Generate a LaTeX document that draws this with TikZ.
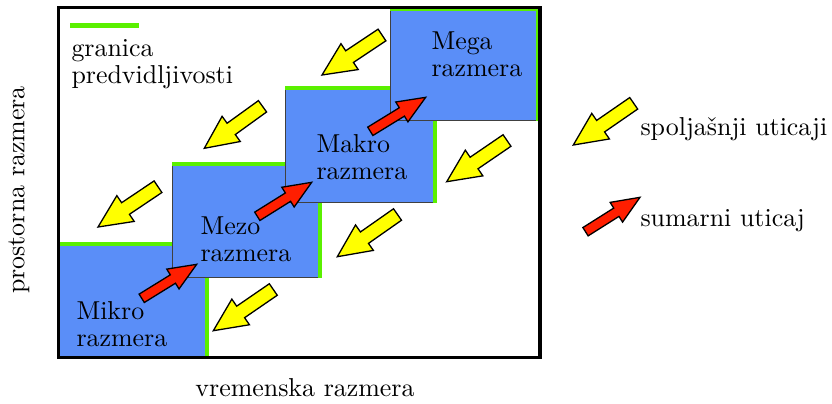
\documentclass[tikz,border=0pt]{standalone}
\usetikzlibrary{calc}

\definecolor{scaleblue}{RGB}{90,142,248}
\definecolor{limitgreen}{RGB}{90,240,0}
\definecolor{pushyellow}{RGB}{255,255,0}
\definecolor{sumred}{RGB}{255,30,0}

\tikzset{
  scalebox/.style={draw=black!75, line width=0.4pt, fill=scaleblue, anchor=north west, inner sep=0pt},
  bound/.style={draw=limitgreen, line width=1.6pt},
  outside/.style={draw=black, line width=0.5pt, fill=pushyellow, line join=miter},
  total/.style={draw=black, line width=0.5pt, fill=sumred, line join=miter},
  lbl/.style={inner sep=0pt, anchor=base west, align=left, font=\fontsize{10}{10.3}\selectfont}
}

% block arrow: style, tail, tip, half shaft, half head, head length
\newcommand{\fatarrow}[6]{%
  \coordinate (fa-h) at ($(#3)!#6!(#2)$);
  \draw[#1] ($(#2)!#4!90:(#3)$) -- ($(fa-h)!#4!90:(#3)$) -- ($(fa-h)!#5!90:(#3)$)
    -- (#3) -- ($(fa-h)!#5!-90:(#3)$) -- ($(fa-h)!#4!-90:(#3)$) -- ($(#2)!#4!-90:(#3)$) -- cycle;
}
\newcommand{\pusharrow}[2]{\fatarrow{outside}{#1}{#2}{2.7pt}{6pt}{12.8pt}}
\newcommand{\sumarrow}[2]{\fatarrow{total}{#1}{#2}{1.9pt}{4.5pt}{10.8pt}}

\begin{document}
\begin{tikzpicture}[x=0.386pt, y=-0.386pt]
  \useasboundingbox (0,0) rectangle (832,403);

  % scale boxes, each with its predictability limit
  \node[scalebox, minimum width=148*0.386pt, minimum height=114*0.386pt] (mikro) at (58,244) {};
  \draw[bound] (mikro.north west) -- (mikro.north east) -- (mikro.south east);
  \node[scalebox, minimum width=147*0.386pt, minimum height=113*0.386pt] (mezo) at (172,164) {};
  \draw[bound] (mezo.north west) -- (mezo.north east) -- (mezo.south east);
  \node[scalebox, minimum width=149*0.386pt, minimum height=114*0.386pt] (makro) at (285,88) {};
  \draw[bound] (makro.north west) -- (makro.north east) -- (makro.south east);
  \node[scalebox, minimum width=147*0.386pt, minimum height=111*0.386pt] (mega) at (390,9) {};
  \draw[bound] (mega.north west) -- (mega.north east) -- (mega.south east);

  % box labels (base = last line)
  \node[lbl] (mikrotxt) at (76,346) {Mikro\\razmera};
  \node[lbl] (mezotxt) at (200,261) {Mezo\\razmera};
  \node[lbl] (makrotxt) at (316,179) {Makro\\razmera};
  \node[lbl] (megatxt) at (431,76) {Mega\\razmera};

  % summary influences
  \sumarrow{141.7,298.3}{196.7,264.3}
  \sumarrow{257.3,216.3}{311.7,182.3}
  \sumarrow{370.3,131.3}{425.7,97.3}

  % external influences
  \pusharrow{382,35}{322,75}
  \pusharrow{262.5,106.3}{204.3,148.3}
  \pusharrow{158,186.7}{98,227}
  \pusharrow{273.3,289.5}{213.3,330.7}
  \pusharrow{397.5,214.5}{337.3,256.7}
  \pusharrow{507,140.5}{446.7,181.7}

  % frame
  \draw[line width=1.2pt] (58.5,7.5) rectangle (540,357.5);

  % legend
  \coordinate (lgA) at (70,25.5);
  \coordinate (lgB) at (139,25.5);
  \draw[bound] (lgA) -- (lgB);
  \node[lbl] (limtxt) at (71,83) {granica\\predvidljivosti};
  \pusharrow{633.7,103.3}{573.3,145}
  \node[lbl] (pushtxt) at (640,135) {spoljašnji uticaji};
  \sumarrow{585.5,231.7}{640,197.3}
  \node[lbl] (sumtxt) at (640,226.7) {sumarni uticaj};

  % axes
  \node[inner sep=0pt] (xlbl) at (305,388) {vremenska razmera};
  \node[inner sep=0pt, rotate=90] (ylbl) at (19,190) {prostorna razmera};
\end{tikzpicture}
\end{document}
